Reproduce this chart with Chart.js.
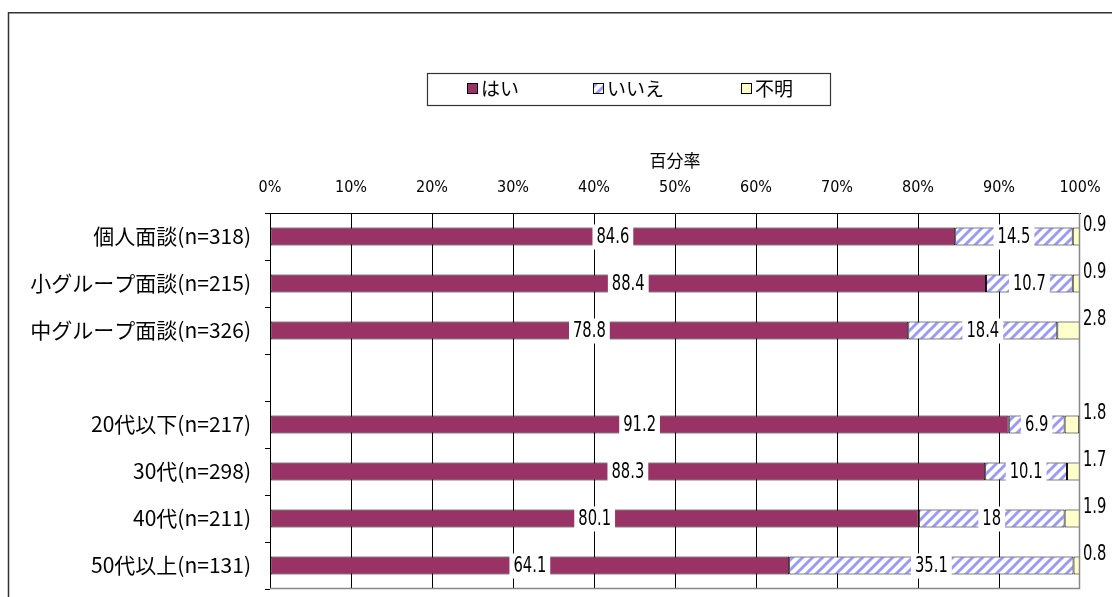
<!DOCTYPE html>
<html>
<head>
<meta charset="utf-8">
<script src="https://cdn.jsdelivr.net/npm/chart.js@4/dist/chart.umd.min.js"></script>
<style>
html,body{margin:0;padding:0;background:#fff;}
#wrap{width:1112px;height:597px;position:relative;}
</style>
</head>
<body>
<div id="wrap"><canvas id="c" width="1112" height="597"></canvas></div>
<script>
const categories = ['個人面談(n=318)', '小グループ面談(n=215)', '中グループ面談(n=326)', '', '20代以下(n=217)', '30代(n=298)', '40代(n=211)', '50代以上(n=131)'];
const seriesNames = ['はい', 'いいえ', '不明'];
const yesValues = [84.6, 88.4, 78.8, null, 91.2, 88.3, 80.1, 64.1];
const noValues = [14.5, 10.7, 18.4, null, 6.9, 10.1, 18, 35.1];
const unknownValues = [0.9, 0.9, 2.8, null, 1.8, 1.7, 1.9, 0.8];
const xTickValues = [0, 10, 20, 30, 40, 50, 60, 70, 80, 90, 100];
const axisTitle = '百分率';

const NARROW = "'Liberation Sans Narrow', 'DejaVu Sans Condensed', 'Noto Sans CJK JP', sans-serif";
const CJK = "'Noto Sans CJK JP', 'DejaVu Sans', sans-serif";

function makeStripe() {
  const s = 10;
  const pc = document.createElement('canvas');
  pc.width = s; pc.height = s;
  const g = pc.getContext('2d');
  g.fillStyle = '#ffffff';
  g.fillRect(0, 0, s, s);
  g.strokeStyle = '#9999ff';
  g.lineWidth = 3;
  g.beginPath();
  g.moveTo(-2, s + 2); g.lineTo(s + 2, -2);
  g.moveTo(-2 - s, s + 2); g.lineTo(2, -2);
  g.moveTo(s - 2, s + 2); g.lineTo(2 * s + 2, -2);
  g.stroke();
  return g.createPattern(pc, 'repeat');
}
const ctx0 = document.getElementById('c').getContext('2d');
const stripe = makeStripe();
const colors = ['#993366', stripe, '#ffffcc'];
const SX = 0.78;

function narrowText(c, txt, x, y, align) {
  const w = c.measureText(txt).width * SX;
  let left = x;
  if (align === 'center') left = x - w / 2;
  else if (align === 'right') left = x - w;
  c.save();
  c.translate(left, y);
  c.scale(SX, 1);
  c.textAlign = 'left';
  c.fillText(txt, 0, 0);
  c.restore();
  return w;
}

const framePlugin = {
  id: 'frame',
  beforeDraw(chart) {
    const c = chart.ctx;
    c.save();
    c.strokeStyle = '#333';
    c.lineWidth = 1.5;
    c.beginPath();
    c.moveTo(8.5, 597); c.lineTo(8.5, 12.75); c.lineTo(1112, 12.75);
    c.stroke();
    c.restore();
  },
  afterDatasetsDraw(chart) {
    const c = chart.ctx;
    const a = chart.chartArea;
    c.save();
    c.strokeStyle = '#000';
    c.lineWidth = 1;
    const emptyIdx = categories.indexOf('');
    const rowH = (a.bottom - a.top) / categories.length;
    const gTop = a.top + emptyIdx * rowH + 6;
    const gBot = a.top + (emptyIdx + 1) * rowH - 6;
    c.beginPath();
    c.moveTo(a.left + 0.5, a.top); c.lineTo(a.left + 0.5, gTop);
    c.moveTo(a.left + 0.5, gBot); c.lineTo(a.left + 0.5, a.bottom);
    c.stroke();
    c.strokeStyle = '#888';
    c.lineWidth = 1.5;
    c.beginPath();
    c.moveTo(a.left, a.bottom - 0.5); c.lineTo(a.right - 0.5, a.bottom - 0.5); c.lineTo(a.right - 0.5, a.top);
    c.stroke();

    c.font = '21px ' + NARROW;
    c.textBaseline = 'middle';
    chart.data.datasets.forEach((ds, di) => {
      const meta = chart.getDatasetMeta(di);
      meta.data.forEach((bar, i) => {
        const v = ds.data[i];
        if (v === null || v === undefined) return;
        const txt = String(v);
        if (di < 2) {
          const cx = (bar.x + bar.base) / 2;
          const w = c.measureText(txt).width * SX;
          c.fillStyle = '#fff';
          c.fillRect(cx - w / 2 - 4, bar.y - 12, w + 8, 25);
          c.fillStyle = '#000';
          narrowText(c, txt, cx, bar.y + 1, 'center');
        } else {
          c.fillStyle = '#000';
          narrowText(c, txt, a.right + 3, bar.y - 11, 'left');
        }
      });
    });
    c.restore();
  },
  afterDraw(chart) {
    const c = chart.ctx;
    c.save();
    c.strokeStyle = '#333';
    c.lineWidth = 1.2;
    c.strokeRect(427.5, 73.5, 403, 32);
    const items = [{x: 467, tx: 481}, {x: 593, tx: 607}, {x: 741, tx: 755}];
    c.font = '19px ' + CJK;
    c.textBaseline = 'middle';
    c.textAlign = 'left';
    items.forEach((it, i) => {
      c.fillStyle = colors[i];
      c.fillRect(it.x, 83, 11, 11);
      c.strokeStyle = '#000';
      c.lineWidth = 1;
      c.strokeRect(it.x + 0.5, 83.5, 10, 10);
      c.fillStyle = '#000';
      c.fillText(seriesNames[i], it.tx, 89);
    });
    c.restore();
  }
};

new Chart(ctx0, {
  type: 'bar',
  data: {
    labels: categories,
    datasets: [
      {label: seriesNames[0], data: yesValues, backgroundColor: colors[0]},
      {label: seriesNames[1], data: noValues, backgroundColor: colors[1]},
      {label: seriesNames[2], data: unknownValues, backgroundColor: colors[2]}
    ].map(d => Object.assign(d, {borderColor: '#000', borderWidth: 1, borderSkipped: false, categoryPercentage: 1, barPercentage: 0.38}))
  },
  options: {
    indexAxis: 'y',
    responsive: false,
    animation: false,
    layout: {padding: {top: 145, left: 0, right: 32, bottom: 8}},
    plugins: {legend: {display: false}, tooltip: {enabled: false}},
    scales: {
      x: {
        position: 'top',
        stacked: true,
        min: 0, max: 100,
        afterBuildTicks(scale) { scale.ticks = xTickValues.map(v => ({value: v})); },
        afterFit(scale) { scale.height = 68; scale.paddingLeft = 0; scale.paddingRight = 0; },
        ticks: {
          callback: v => v + '%',
          color: '#000',
          font: {family: NARROW, size: 16},
          padding: 16,
          maxRotation: 0,
          autoSkip: false
        },
        grid: {
          color: ctx => (ctx.tick && ctx.tick.value === 100) ? 'rgba(0,0,0,0)' : '#000',
          lineWidth: 1,
          drawTicks: false
        },
        border: {display: true, color: '#000', width: 1},
        title: {display: true, text: axisTitle, color: '#000', font: {family: CJK, size: 17}, padding: {top: 5, bottom: 0}}
      },
      y: {
        stacked: true,
        afterFit(scale) { scale.width = 270; scale.paddingTop = 0; scale.paddingBottom = 0; },
        ticks: {color: '#000', font: {family: CJK, size: 21}, padding: 14},
        grid: {drawOnChartArea: false, drawTicks: true, tickLength: 5, color: '#000', offset: true},
        border: {display: false}
      }
    }
  },
  plugins: [framePlugin]
});
</script>
</body>
</html>
